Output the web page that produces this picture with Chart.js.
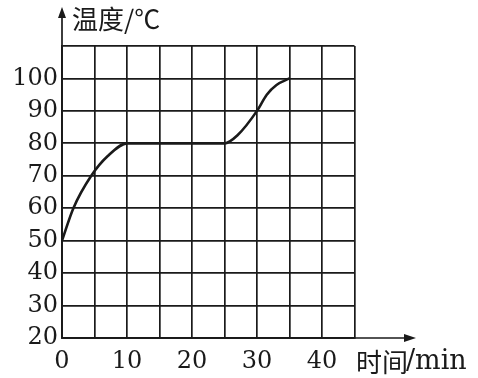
<!DOCTYPE html>
<html>
<head>
<meta charset="utf-8">
<script src="https://cdn.jsdelivr.net/npm/chart.js@4"></script>
<style>
  body { margin: 0; background: #fff; }
  #chart { display: block; }
</style>
</head>
<body>
<canvas id="chart" width="478" height="378"></canvas>
<script>
// time (min) and temperature readings along the curve
const timeValues = [0, 1.75, 4.5, 7, 10, 25, 27, 30, 31.5, 33, 35];
const tempValues = [50, 60, 70, 76, 80, 80, 82.5, 90, 95, 98, 100];

const yAxisTitle = '温度/℃';
const xTitleCjk = '时间';
const xTitleUnit = '/min';

const ink = '#1a1a1a';
const serif = '"DejaVu Serif", serif';
const cjk = '"Noto Sans CJK SC", sans-serif';

// arrows on both axes and the axis titles
const axisArrows = {
  id: 'axisArrows',
  afterDraw(chart) {
    const { ctx, chartArea } = chart;
    const { left, bottom } = chartArea;
    ctx.save();
    ctx.strokeStyle = ink;
    ctx.fillStyle = ink;
    ctx.lineWidth = 1.7;

    // y axis up to the arrow
    ctx.beginPath();
    ctx.moveTo(left, bottom);
    ctx.lineTo(left, 14);
    ctx.stroke();
    ctx.beginPath();
    ctx.moveTo(left, 7);
    ctx.lineTo(left - 4, 18);
    ctx.lineTo(left + 4, 18);
    ctx.closePath();
    ctx.fill();

    // x axis out to the arrow
    ctx.beginPath();
    ctx.moveTo(left, bottom);
    ctx.lineTo(410, bottom);
    ctx.stroke();
    ctx.beginPath();
    ctx.moveTo(416, bottom);
    ctx.lineTo(404, bottom - 4);
    ctx.lineTo(404, bottom + 4);
    ctx.closePath();
    ctx.fill();

    ctx.textBaseline = 'middle';
    ctx.textAlign = 'left';
    ctx.font = '26px ' + cjk;
    ctx.fillText(yAxisTitle, 72, 19);
    ctx.fillText(xTitleCjk, 356, 362);
    ctx.font = '27px ' + serif;
    ctx.fillText(xTitleUnit, 406, 362);
    ctx.restore();
  }
};

new Chart(document.getElementById('chart'), {
  type: 'line',
  data: {
    datasets: [{
      data: timeValues.map((t, i) => ({ x: t, y: tempValues[i] })),
      borderColor: ink,
      borderWidth: 2.6,
      pointRadius: 0,
      cubicInterpolationMode: 'monotone',
      fill: false
    }]
  },
  options: {
    responsive: false,
    animation: false,
    layout: {
      padding: { top: 46, right: 123.5, left: 0, bottom: 0 }
    },
    plugins: {
      legend: { display: false },
      tooltip: { enabled: false }
    },
    scales: {
      x: {
        type: 'linear',
        min: 0,
        max: 45,
        afterFit: scale => { scale.height = 40; },
        ticks: {
          stepSize: 5,
          autoSkip: false,
          maxRotation: 0,
          padding: 9,
          color: ink,
          font: { family: serif, size: 24 },
          callback: v => (v % 10 === 0 && v < 45 ? v : '')
        },
        grid: {
          color: ink,
          lineWidth: 1.7,
          drawTicks: false
        },
        border: { color: ink, width: 1.7 }
      },
      y: {
        min: 20,
        max: 110,
        afterFit: scale => { scale.width = 62; },
        ticks: {
          stepSize: 10,
          autoSkip: false,
          padding: 4,
          color: ink,
          font: { family: serif, size: 24 },
          callback: v => (v === 110 ? '' : v)
        },
        grid: {
          color: ink,
          lineWidth: 1.7,
          drawTicks: false
        },
        border: { color: ink, width: 1.7 }
      }
    }
  },
  plugins: [axisArrows]
});
</script>
</body>
</html>
